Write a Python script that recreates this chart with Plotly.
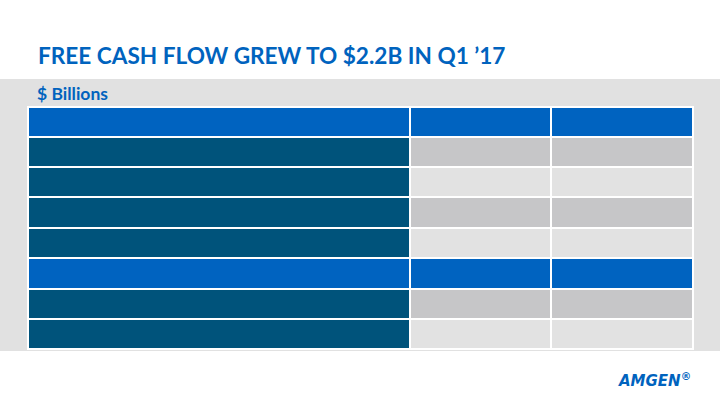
import plotly.graph_objects as go

# table content (cells in the reference carry no visible text)
label_col = ["", "", "", "", "", "", ""]
col_a = ["", "", "", "", "", "", ""]
col_b = ["", "", "", "", "", "", ""]
header = ["", "", ""]

# row kinds drive the cell colours
row_kind = ["mid", "light", "mid", "light", "sub", "mid", "light"]

blue = "#0063c0"
dark = "#00537b"
shade = {"mid": "#c6c6c8", "light": "#e2e2e2", "sub": blue}

first_col_fill = [blue if k == "sub" else dark for k in row_kind]
value_fill = [shade[k] for k in row_kind]

fig = go.Figure()

fig.add_trace(go.Table(
    domain=dict(x=[28 / 720, 693 / 720], y=[0, 1 - 106.5 / 405]),
    columnwidth=[380, 140, 141],
    header=dict(values=header, fill_color=blue, height=30,
                line=dict(color="white", width=2)),
    cells=dict(values=[label_col, col_a, col_b],
               fill_color=[first_col_fill, value_fill, value_fill],
               height=30.4, line=dict(color="white", width=2)),
))

fig.update_layout(
    width=720, height=405,
    margin=dict(l=0, r=0, t=0, b=0),
    paper_bgcolor="white", plot_bgcolor="white",
    showlegend=False,
    shapes=[
        dict(type="rect", xref="paper", yref="paper", x0=0, x1=1,
             y0=1 - 351 / 405, y1=1 - 79 / 405, fillcolor="#e1e1e1",
             line=dict(width=0), layer="below"),
    ],
    annotations=[
        dict(text="FREE CASH FLOW GREW TO $2.2B IN Q1 ’17", xref="paper", yref="paper",
             x=36 / 720, y=1 - 66 / 405, xanchor="left", yanchor="bottom", yshift=-5,
             showarrow=False, font=dict(family="Lato", size=22.6, color="#0063be", weight="bold")),
        dict(text="$ Billions", xref="paper", yref="paper",
             x=35 / 720, y=1 - 102 / 405, xanchor="left", yanchor="bottom", yshift=-4,
             showarrow=False, font=dict(family="Lato", size=17.5, color="#0063be", weight="bold")),
        dict(text="<i>AMGEN</i><sup style='font-size:6px'>®</sup>", xref="paper", yref="paper",
             x=693 / 720, y=1 - 388 / 405, xanchor="right", yanchor="bottom", yshift=-4,
             showarrow=False,
             font=dict(family="DejaVu Sans", size=15, color="#0063be", weight="bold")),
    ],
)

fig.write_html("out.html", config=dict(displayModeBar=False),
               post_script="document.body.style.margin='0';")
